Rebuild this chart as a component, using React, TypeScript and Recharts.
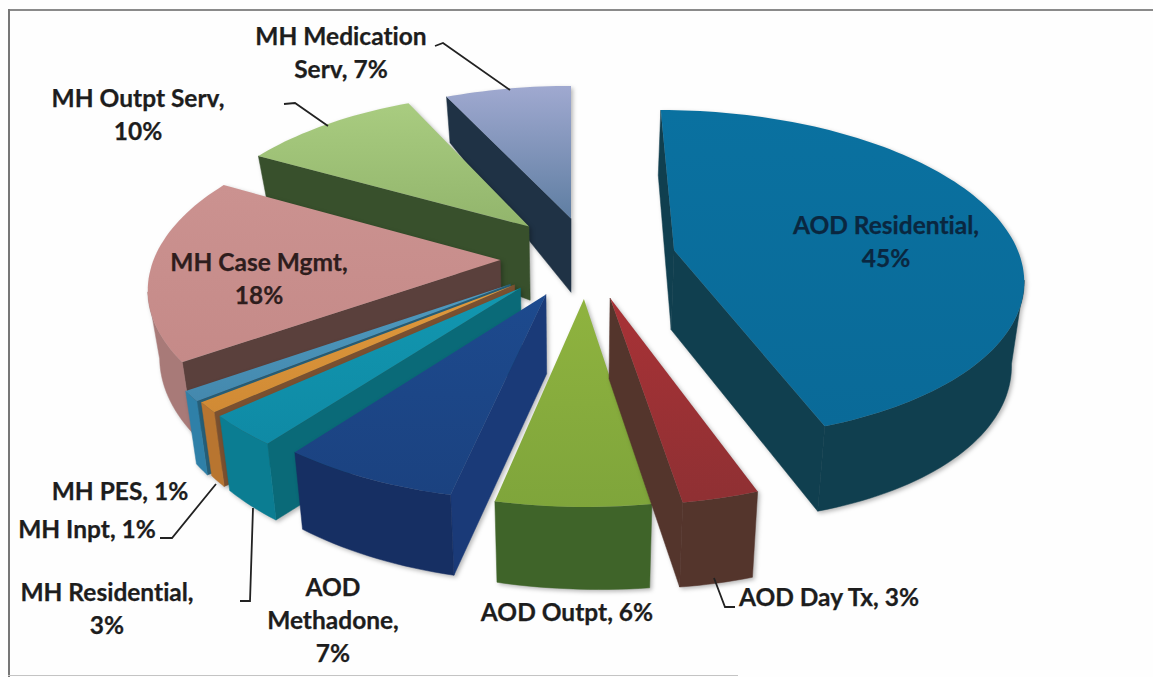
import React from "react";
import { PieChart, Pie } from "recharts";

const CATEGORIES = ["MH Medication Serv", "MH Outpt Serv", "MH Case Mgmt", "MH PES", "MH Inpt", "MH Residential", "AOD Methadone", "AOD Outpt", "AOD Day Tx", "AOD Residential"];
const VALUES = [7, 10, 18, 1, 1, 3, 7, 6, 3, 45];
const chartData = CATEGORIES.map((name, i) => ({ name, value: VALUES[i] }));

// Slice explosion on the ground plane, in radii (style, not data)
const EXPLODE_X = [0, -0.125, -0.204, -0.171, -0.159, -0.142, -0.07, 0.036, 0.109, 0.3];
const EXPLODE_Y = [0.288, 0.235, 0.024, -0.12, -0.124, -0.142, -0.18, -0.206, -0.2, 0.085];
const TOP_A = ["#a0a9d0", "#a9cc80", "#cb9290", "#4f9cc2", "#e09a3c", "#1297b0", "#1d4a8e", "#8fb33f", "#a83236", "#0a71a0"];
const TOP_B = ["#5f7ea2", "#92b56c", "#c58a88", "#4488ad", "#d08a35", "#0f8aa5", "#1b4280", "#7fa53b", "#8f3033", "#0a6a98"];
const WALL = ["#1c2e42", "#3a502b", "#a87a78", "#2f80a8", "#b87530", "#0b7d92", "#162f63", "#3f6429", "#54352c", "#103f4f"];
const CUT = ["#1f3245", "#38502c", "#5a403c", "#265f78", "#7a5030", "#0a6a78", "#1a3a78", "#3f6429", "#54352c", "#103f4f"];

const LINE1 = ["MH Medication", "MH Outpt Serv,", "MH Case Mgmt,", "MH PES, 1%", "MH Inpt, 1%", "MH Residential,", "AOD", "AOD Outpt, 6%", "AOD Day Tx, 3%", "AOD Residential,"];
const LINE2 = ["Serv, 7%", "10%", "18%", "", "", "3%", "Methadone,", "", "", "45%"];
const LINE3 = ["", "", "", "", "", "", "7%", "", "", ""];
const LABEL_X = [341, 138, 259, 120, 87, 107, 333, 567, 829, 886];
const LABEL_Y = [45, 107, 271, 500, 538, 601, 596, 621, 606, 234];
const LABEL_GAP = 33;
const LEADERS: (string | null)[] = [
  "M435,46 L443,43 L510,90",
  "M284,104 L295,103 L328,126",
  null,
  null,
  "M160,538 L172,538 L216,484",
  "M240,601 L250,601 L253,508",
  null,
  null,
  "M714,578 L725,607 L735,607",
  null,
];
const LABEL_INK = ["#1d1d1d", "#1d1d1d", "#2e1d1d", "#1d1d1d", "#1d1d1d", "#1d1d1d", "#1d1d1d", "#1d1d1d", "#1d1d1d", "#0a2740"];

const SQUASH = 165 / 348;
const PERSPECTIVE = 0.15;

function wallDepth(X: number, Y: number) {
  const r2 = Math.min(1, X * X + Y * Y);
  return 70 + (X > 0 ? 10 : 4) * X - (Y > 0 ? 12 : 10) * Y + (Y > 0 ? 16 * X * Y : 0) + 8 * (1 - r2);
}

function Slice3D(props: any) {
  const i = CATEGORIES.indexOf(props.name ?? props.payload?.name);
  const { cx, cy, outerRadius: R } = props;
  const a = 90 - Math.max(props.startAngle, props.endAngle);
  const b = 90 - Math.min(props.startAngle, props.endAngle);
  const ex = EXPLODE_X[i];
  const ey = EXPLODE_Y[i];
  const project = (X: number, Y: number) => {
    const w = 1 + PERSPECTIVE * Y;
    const x = cx + (R * X) / w;
    const y = cy - (R * SQUASH * Y) / w;
    const d = wallDepth(X, Y);
    return { x, y, bx: x - (x - cx) * 0.028, by: y + d };
  };
  const apex = project(ex, ey);
  const arc: ReturnType<typeof project>[] = [];
  const steps = Math.max(2, Math.ceil((b - a) / 1.5));
  for (let s = 0; s <= steps; s++) {
    const t = ((a + ((b - a) * s) / steps) * Math.PI) / 180;
    arc.push(project(ex + Math.sin(t), ey + Math.cos(t)));
  }
  const top = "M" + [apex, ...arc].map((p) => `${p.x.toFixed(1)},${p.y.toFixed(1)}`).join(" L") + " Z";
  const quad = (p: any, q: any) => `M${p.x},${p.y} L${q.x},${q.y} L${q.bx},${q.by} L${p.bx},${p.by} Z`;
  const first = arc[0];
  const last = arc[arc.length - 1];
  const run = arc.filter((p, k) => (k > 0 && p.x < arc[k - 1].x) || (k < arc.length - 1 && arc[k + 1].x < p.x));
  const wall =
    run.length > 1
      ? "M" + run.map((p) => `${p.x},${p.y}`).join(" L") + " L" + [...run].reverse().map((p) => `${p.bx},${p.by}`).join(" L") + " Z"
      : null;
  const gid = `top-${i}`;
  return (
    <g style={{ filter: "drop-shadow(2px 2px 2px rgba(0,0,0,0.28))" }}>
      <defs>
        <linearGradient id={gid} x1="0" y1="0" x2="0" y2="1">
          <stop offset="0%" stopColor={TOP_A[i]} />
          <stop offset="100%" stopColor={TOP_B[i]} />
        </linearGradient>
      </defs>
      {first.x < apex.x && <path d={quad(apex, first)} fill={CUT[i]} stroke={CUT[i]} strokeWidth={0.5} />}
      {apex.x < last.x && <path d={quad(last, apex)} fill={CUT[i]} stroke={CUT[i]} strokeWidth={0.5} />}
      {wall && <path d={wall} fill={WALL[i]} stroke={WALL[i]} strokeWidth={0.5} />}
      <path d={top} fill={`url(#${gid})`} />
    </g>
  );
}

function renderLabel(props: any) {
  const i = CATEGORIES.indexOf(props.name ?? props.payload?.name);
  const lines = [LINE1[i], LINE2[i], LINE3[i]].filter(Boolean);
  return (
    <g key={CATEGORIES[i]}>
      {LEADERS[i] && <path d={LEADERS[i] as string} fill="none" stroke="#222" strokeWidth={1.8} />}
      <text
        textAnchor="middle"
        fontFamily="Lato, sans-serif"
        fontWeight={700}
        fontSize={24.5}
        fill={LABEL_INK[i]}
        stroke={LABEL_INK[i]}
        strokeWidth={0.25}
        style={{ fontVariantLigatures: "none" }}
      >
        {lines.map((t, k) => (
          <tspan key={k} x={LABEL_X[i]} y={LABEL_Y[i] + k * LABEL_GAP}>
            {t}
          </tspan>
        ))}
      </text>
    </g>
  );
}

export default function App() {
  return (
    <div style={{ position: "absolute", left: 0, top: 0, width: 1153, height: 677, background: "#fefefe", overflow: "hidden" }}>
      <div style={{ position: "absolute", left: 8, top: 9, right: 0, height: 2, background: "#8a8a8a" }} />
      <div style={{ position: "absolute", left: 8, top: 9, bottom: 0, width: 2, background: "#777" }} />
      <div style={{ position: "absolute", left: 8, bottom: 1, width: 730, height: 1, background: "#c4c4c4" }} />
      <PieChart width={1153} height={677} margin={{ top: 0, right: 0, bottom: 0, left: 0 }} style={{ position: "absolute", left: 0, top: 0 }}>
        <Pie
          data={chartData}
          dataKey="value"
          nameKey="name"
          cx={571}
          cy={264}
          innerRadius={0}
          outerRadius={348}
          startAngle={90}
          endAngle={450}
          paddingAngle={0}
          stroke="none"
          isAnimationActive={false}
          shape={Slice3D}
          label={renderLabel}
          labelLine={false}
        />
      </PieChart>
    </div>
  );
}
